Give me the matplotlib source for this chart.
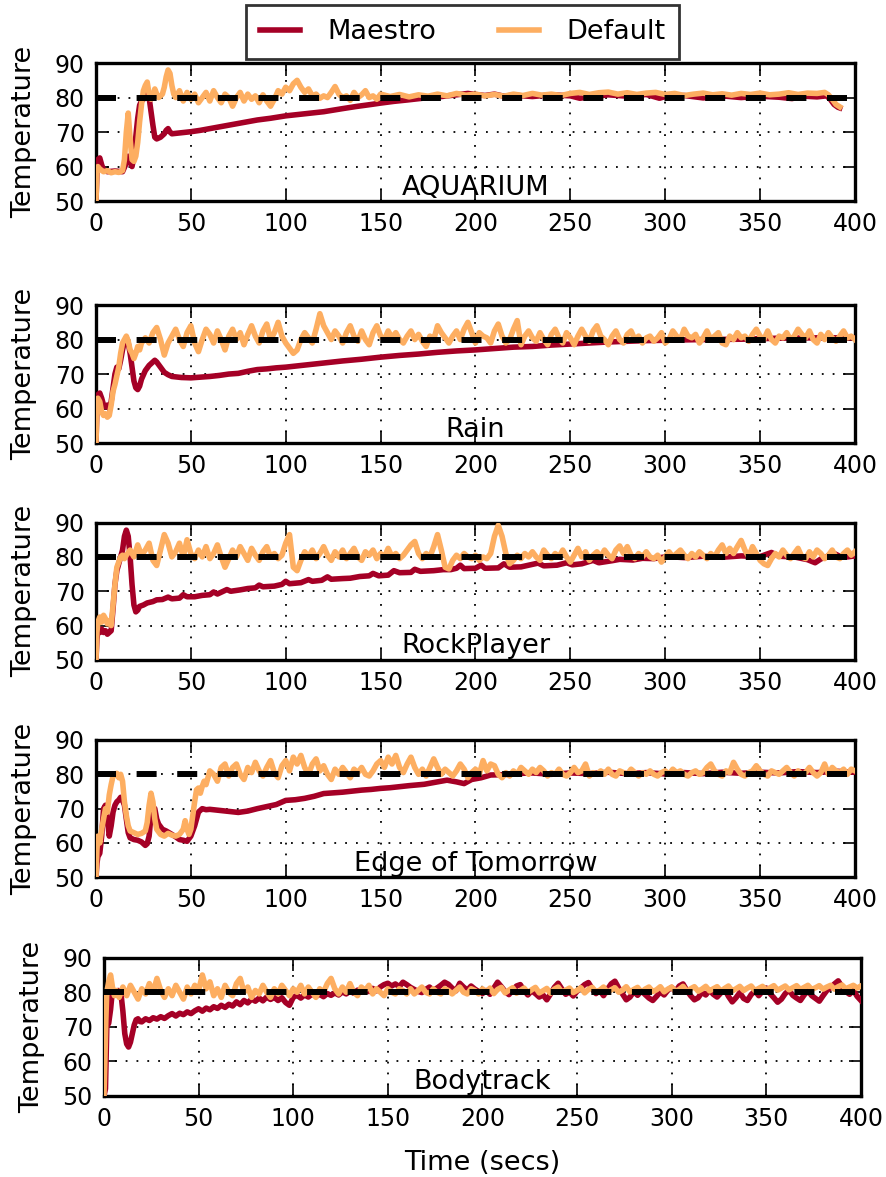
import matplotlib
matplotlib.use('Agg')
import matplotlib.pyplot as plt
from matplotlib.lines import Line2D
import numpy as np

# ── Config ──
MAESTRO_COLOR = "#a50026"
DEFAULT_COLOR = "#fdae61"
TARGET = 80
PANEL_NAMES = ["AQUARIUM", "Rain", "RockPlayer", "Edge of Tomorrow", "Bodytrack"]
X_TICKS = [0, 50, 100, 150, 200, 250, 300, 350, 400]
Y_TICKS = [50, 60, 70, 80, 90]

# ── Data ──
# (time, temp) points for the start-up part; noisy tails sampled every 2 s

# AQUARIUM
aq_maestro = [(0, 50), (0.5, 58), (1, 62), (2, 62.5), (3, 60.5), (4, 59), (6, 58.5), (10, 58.7),
              (14, 58.5), (16, 61), (17, 63), (18, 61.5), (19, 60), (20, 63), (21, 68.7), (22, 74),
              (23, 77.8), (24, 79), (25, 79.5), (26, 80.5), (27, 81.7), (28, 80), (29, 76), (30, 72),
              (31, 68.5), (32, 68), (34, 68.5), (36, 69.5), (37, 70.5), (38, 71), (39, 70), (40, 69.5),
              (45, 69.8), (50, 70.1), (55, 70.5), (60, 71), (67, 71.7), (75, 72.5), (85, 73.5),
              (92, 74), (100, 74.7), (110, 75.3), (120, 75.9), (130, 76.8), (137, 77.4), (145, 78),
              (150, 78.4), (157, 78.9), (164, 79.3), (172, 79.8), (182, 80.3), (190, 80.8),
              (196, 81.2), (200, 80.9), (205, 80.6), (210, 81), (215, 80.4), (220, 80.7), (230, 80.3),
              (240, 80.8), (250, 80.5), (255, 79.8), (260, 80.2), (270, 80.8), (280, 80.4), (290, 80.9),
              (297, 79.8), (300, 80.3), (310, 80.6), (320, 79.9), (330, 80.5), (340, 80), (350, 80.4),
              (360, 80.1), (367, 79.7), (370, 80.5), (380, 80.2), (385, 80.5), (387, 79.5),
              (389, 78), (391, 77.2), (392, 77)]
aq_default_head = [(0, 50), (0.5, 58), (1, 60), (2, 59.3), (4, 58.5), (6, 58.8), (8, 58.2), (10, 58.5),
                   (12, 58.3), (14, 58.8), (15, 62), (16, 70), (17, 75.5), (18, 68), (19, 62),
                   (20, 61.5), (21, 63), (22, 67), (23, 73), (24, 78), (25, 82), (26, 83.5), (27, 84.5),
                   (28, 81), (29, 79.5), (30, 80.5), (31, 82.5), (32, 81), (33, 80), (34, 80.5),
                   (35, 81), (36, 83), (37, 86), (38, 88), (39, 87), (40, 83.5), (41, 81), (42, 80)]
aq_default_tail = [82, 79, 81.5, 79.5, 81, 78.5, 80, 81.5, 79, 82,
                   80, 78.5, 81, 80, 77.5, 80, 81.5, 79, 81, 79.5,
                   80.5, 78.5, 80.8, 79, 77.5, 79.5, 82, 81, 83, 82,
                   84, 85, 83, 81.5, 82.5, 80.5, 81, 79.8, 80.5, 80,
                   81.5, 83.2, 81, 80, 80.5, 79.2, 81.5, 80, 80.8, 82,
                   80, 80.5, 79.5, 81]  # t = 44, 46, ...
aq_default_rest = [(155, 80.3), (160, 80.9), (165, 80.2), (170, 80.8), (175, 80.4), (180, 81),
                   (185, 80.5), (190, 81.2), (195, 80.7), (200, 81), (205, 80.5), (210, 80.9),
                   (215, 80.4), (220, 81), (225, 80.6), (230, 81.2), (235, 80.7), (240, 81),
                   (245, 80.6), (250, 81.2), (255, 81.5), (260, 80.9), (265, 81.4), (270, 81.6),
                   (275, 81), (280, 81.4), (285, 80.9), (290, 81.3), (295, 81.5), (300, 80.9),
                   (305, 81.2), (310, 80.6), (315, 81), (320, 81.3), (325, 80.8), (330, 81.1),
                   (335, 80.7), (340, 81.2), (345, 80.9), (350, 81.3), (355, 80.8), (360, 81),
                   (365, 81.4), (370, 80.9), (375, 81.3), (380, 81.2), (384, 81.5), (386, 80.8),
                   (388, 79.5), (390, 78), (392, 77.3)]

# Rain
rain_maestro = [(0, 50), (0.5, 60), (1, 64), (2, 64.5), (3, 63), (4, 61), (5, 60.5), (6, 61), (7, 60),
                (8, 62), (9, 66), (10, 70), (11, 72), (12, 71.5), (13, 74), (14, 77), (15, 79.5),
                (16, 80.5), (17, 79), (18, 76), (19, 72), (20, 68), (21, 66), (22, 65.5), (23, 66.5),
                (24, 68.5), (26, 71), (28, 72.5), (30, 73.5), (31, 74), (32, 73.5), (34, 72),
                (36, 70.5), (38, 69.8), (40, 69.3), (45, 69), (50, 68.9), (55, 69.1), (60, 69.3),
                (65, 69.6), (70, 70), (75, 70.2), (80, 70.8), (85, 71.3), (90, 71.5), (95, 71.8),
                (100, 72), (110, 72.6), (120, 73.2), (130, 73.8), (140, 74.3), (150, 74.9),
                (160, 75.4), (170, 75.8), (180, 76.3), (190, 76.7), (200, 77), (210, 77.4),
                (220, 77.8), (230, 78), (240, 78.4), (250, 78.7), (260, 79), (270, 79.3), (280, 79.5),
                (290, 79.7), (300, 79.8), (320, 80), (340, 80.1), (360, 80.4), (380, 80.5), (400, 80.5)]
rain_default_head = [(0, 50), (0.5, 59), (1, 63), (2, 62), (3, 59), (4, 58), (5, 58.5), (6, 57.5),
                     (7, 58), (8, 61), (9, 65), (10, 67), (11, 69.5), (12, 72), (13, 76), (14, 79),
                     (15, 80), (16, 81), (17, 79.5), (18, 77), (19, 76), (20, 74.5), (21, 76),
                     (22, 78), (23, 77), (24, 79)]
rain_default_tail = [80.5, 79, 82, 83.5, 80, 75.5, 79, 81, 83, 80,
                     78, 82, 84, 79, 76.5, 80, 83, 81.5, 79, 82.5,
                     80, 77, 81, 83, 80, 82, 78.5, 81.5, 84, 81,
                     79, 82.5, 84.5, 80, 82, 85, 81, 79, 77.5, 76,
                     77, 80, 82, 80.5, 79, 83, 87.5, 84, 82, 80,
                     82.5, 81, 79, 82, 84, 81, 79.5, 82.5, 80, 78.5,
                     82, 84, 81, 80, 82.5, 80.5, 82, 80, 79, 81,
                     82.5, 80, 81.5, 79.5, 78, 81, 80, 84, 82, 80.5,
                     79, 81, 82.5, 80, 83, 85, 82, 79, 82, 81,
                     80.5, 79, 82.5, 84.5, 81, 79, 80, 83, 85.5, 78.5,
                     81, 82.5, 80.5, 79.5, 82, 80, 78.5, 81.5, 83, 80.5,
                     79, 82, 80.5, 78.5, 81, 83, 81, 79.5, 82.5, 84,
                     81, 80, 78.5, 81, 82.5, 80, 79, 81.5, 82.5, 80,
                     81, 79, 80.5, 81, 79.5, 80.5, 82, 79, 80, 82.5,
                     81, 80, 83, 81, 80.5, 81.5, 79, 80.5, 82.5, 80,
                     81, 82, 79, 78.5, 81, 80, 82, 80.5, 81, 79.5,
                     81.5, 83, 81, 80, 82.5, 80, 79, 81, 80.5, 82,
                     80, 81, 83, 81.5, 80.5, 82.5, 80, 79, 81.5, 80,
                     82, 80.5, 79.5, 81, 82.5, 80.5, 81, 80]  # t = 26, 28, ...

# RockPlayer
rock_maestro = [(0, 50), (0.5, 56), (1, 58.5), (2, 58), (3, 59), (4, 58), (5, 58.5), (6, 57.5), (7, 58),
                (8, 58.5), (9, 65), (10, 72), (11, 76), (12, 78), (13, 80), (14, 82), (15, 86),
                (16, 87.8), (17, 86), (18, 80), (19, 72), (20, 66), (21, 64), (22, 64.5), (23, 65.6),
                (25, 66), (27, 66.6), (30, 67), (32, 67.5), (35, 67.6), (38, 68.3), (40, 67.8),
                (44, 68), (46, 69), (48, 68.4), (52, 68.4), (56, 68.8), (60, 69), (62, 69.8),
                (64, 69.2), (69, 70.5), (71, 70), (76, 70.4), (80, 70.8), (84, 71), (86, 71.8),
                (88, 71.3), (94, 71.5), (98, 72), (100, 72.9), (102, 72.2), (108, 72.5), (112, 73.4),
                (114, 72.9), (119, 73.2), (122, 74.2), (124, 73.5), (130, 73.7), (134, 73.8),
                (139, 74.3), (144, 74.5), (146, 75.2), (149, 74.5), (154, 74.7), (157, 76),
                (160, 75.4), (166, 75.5), (168, 76.4), (171, 75.8), (178, 76), (183, 76.3),
                (187, 76.3), (190, 76.7), (192, 77.6), (194, 76.6), (200, 76.7), (203, 77.6),
                (205, 76.7), (212, 76.8), (215, 78), (218, 77), (224, 77.1), (233, 78.2), (236, 77.4),
                (243, 77.6), (248, 78.3), (251, 77.7), (256, 78), (262, 79), (265, 78.3), (272, 78.9),
                (276, 79.3), (283, 79.1), (288, 79.6), (294, 79.5), (301, 80.1), (310, 79.8),
                (320, 80.2), (330, 79.9), (340, 80.3), (350, 80.1), (356, 81.3), (360, 80.2),
                (368, 80), (375, 79.2), (379, 78.3), (382, 79.4), (386, 80.3), (389, 81), (392, 80.2),
                (396, 80), (400, 80.3)]
rock_default_head = [(0, 50), (0.5, 58), (1, 61), (2, 62.5), (3, 61), (4, 63), (5, 62), (6, 60.5),
                     (7, 61.5), (8, 60), (9, 66), (10, 72), (11, 77), (12, 78.5), (13, 80), (14, 80.5),
                     (15, 79.5), (16, 80.5)]
rock_default_tail = [82, 80, 83.5, 80.5, 82, 84, 79, 77.5, 82, 86.5,
                     84, 80, 81.5, 84, 80, 85, 81, 79.5, 82, 80,
                     83, 79.5, 81, 83.5, 80, 77, 79.5, 82, 80, 83,
                     81, 79, 82.5, 80.5, 79, 81.5, 83, 80, 81, 79.5,
                     80.5, 84, 86.5, 77, 76, 79, 81.5, 80, 82, 79.5,
                     81, 83, 80.5, 79, 81.5, 80, 82, 79.5, 81, 82.5,
                     80, 79, 81.5, 80.5, 82, 79.5, 81, 80, 82.5, 80,
                     81, 79.5, 80.5, 82, 83.5, 84.5, 81, 79.5, 81, 80,
                     83, 86.5, 82, 77, 76.5, 79, 80.5, 79.5, 81, 80,
                     79.5, 80.5, 79, 80, 79.5, 81, 86, 89.2, 86, 81,
                     78, 79, 80.5, 79.5, 81, 80, 81.5, 80, 79, 82,
                     80.5, 79.5, 81, 80, 82, 80, 78.5, 80.5, 82.5, 80,
                     81.5, 79, 80.5, 81.5, 80, 82, 80.5, 79.5, 82, 83.2,
                     81, 83, 80.5, 79.5, 81, 80, 81.5, 80, 79.5, 80.5,
                     78.5, 80, 81.5, 80, 81, 82, 80.5, 79.5, 81, 80,
                     81.5, 80.5, 79.5, 81, 80, 82, 83.5, 81, 82.5, 81,
                     83, 84.8, 82, 80, 83, 81, 79, 78, 77.5, 79.5,
                     81, 80, 82, 80.5, 79.5, 81, 82.5, 80, 79.5, 81.5,
                     80, 82, 81, 79.5, 80.5, 82, 80, 79.5, 81, 82,
                     80.5, 81.5]  # t = 18, 20, ...

# Edge of Tomorrow
edge_maestro = [(0, 50), (0.5, 54), (1, 56), (2, 57), (3, 62), (4, 70), (5, 71), (6, 67), (7, 62),
                (8, 65), (9, 69), (10, 71), (11, 72), (12, 72.5), (13, 73.3), (14, 72.5), (15, 71),
                (16, 67), (17, 63), (18, 61.5), (20, 61), (22, 60.8), (24, 60.3), (26, 59.3),
                (27, 59.8), (28, 62), (29, 68), (30, 70.5), (31, 70), (32, 67), (33, 65.5), (35, 64),
                (37, 63.5), (40, 62.5), (42, 61.8), (44, 61), (46, 60.8), (48, 60.5), (50, 62),
                (52, 65), (54, 69), (56, 70), (58, 69.7), (60, 69.8), (65, 69.5), (70, 69.2),
                (75, 68.9), (80, 69.3), (85, 70), (90, 70.6), (95, 71.2), (100, 72.4), (105, 72.6),
                (110, 73), (115, 73.6), (120, 74.4), (125, 74.6), (130, 74.8), (135, 75.1),
                (140, 75.4), (145, 75.6), (150, 75.9), (155, 76.1), (160, 76.4), (165, 76.7),
                (173, 77.1), (178, 77.6), (182, 78), (185, 78.3), (190, 77.8), (194, 77.3),
                (198, 78.5), (203, 79), (208, 79.8), (215, 79.9), (220, 80.2), (230, 80.4),
                (240, 80), (250, 80.4), (260, 80.2), (270, 80.6), (280, 80.2), (290, 80.5),
                (300, 80.1), (310, 80.5), (320, 80.2), (330, 80.6), (340, 80.3), (350, 80.6),
                (360, 80.4), (370, 80.8), (380, 80.5), (390, 80.9), (400, 80.6)]
edge_default_head = [(0, 50), (0.5, 58), (1, 62), (2, 60), (3, 64), (4, 67), (5, 70), (6, 69), (7, 74),
                     (8, 77), (9, 79.5), (10, 80), (11, 80.3), (12, 79), (13, 80), (14, 78), (15, 72),
                     (16, 68), (17, 65), (18, 63.5), (20, 63), (22, 62.5), (24, 62.8), (26, 63.5),
                     (27, 66), (28, 71), (29, 74.5), (30, 72), (31, 67), (32, 64), (34, 62.5),
                     (36, 62), (38, 62.8), (40, 62.3), (42, 62), (44, 62.5), (46, 64), (47, 66.5),
                     (48, 64), (49, 62.5), (50, 64), (51, 68), (52, 72), (53, 75.5), (54, 76),
                     (55, 74.5), (56, 76.5), (57, 78), (58, 77), (59, 79), (60, 81)]
edge_default_tail = [80, 78, 82, 83, 79.5, 82, 83, 80, 78.5, 82,
                     80.5, 83.5, 81, 79.5, 82, 84, 80.5, 79, 82.5, 84,
                     81, 85, 83, 85.5, 82, 80, 83, 84.5, 81, 82.5,
                     80, 78.5, 81.5, 80, 82, 80.5, 79, 81.5, 80.5, 82,
                     80, 79.5, 81, 83, 84, 82, 85, 83, 85.5, 82,
                     80.5, 83, 85, 82, 80, 81.5, 79.5, 82, 84.5, 82,
                     80, 81.5, 80.5, 79.5, 81, 83, 81.5, 79, 80.5, 81.5,
                     80, 84, 81, 83, 82.5, 80, 79, 80.5, 79.5, 81,
                     80, 82, 81, 80, 81.5, 80.5, 82, 81, 79.5, 80.5,
                     80, 81.5, 80, 79.5, 80.5, 82, 80.5, 81, 83, 79.5,
                     80.5, 80, 81, 80, 81.5, 80, 79.5, 81, 80.5, 80,
                     81.5, 80.5, 79.5, 80.5, 80, 81, 80, 79.5, 80.5, 81,
                     80, 81.5, 80.5, 81, 80, 79.5, 80.5, 81, 80, 80.5,
                     82, 83, 81, 80, 79.5, 81, 80.5, 83.5, 81.5, 80,
                     79.5, 80.5, 81, 82.5, 81, 80, 79.5, 81, 80.5, 80,
                     81, 82, 80.5, 79.5, 81, 80, 80.5, 82, 80.5, 79.5,
                     80.5, 83, 80, 82, 81, 80.5, 81.5, 80, 81.5, 81]  # t = 62, 64, ...

# Bodytrack
body_maestro_head = [(0, 50), (0.8, 52), (1.5, 70), (2.5, 71), (3.5, 75), (4.5, 80.8), (6, 80),
                     (7.5, 80.5), (9, 79.5), (10, 74.5), (11, 68), (12, 65), (13, 64.1), (14, 65.5),
                     (15, 68), (16, 70.5), (17, 72), (18, 72.3), (19, 71.5), (20, 71.4)]
body_maestro_tail = [72.3, 71.8, 72.6, 72.2, 72.9, 72.4, 73.2, 73.8, 73.1, 73.9,
                     73.5, 74.3, 73.8, 74.6, 75.2, 74.5, 75.4, 74.9, 75.8, 75.3,
                     76.2, 75.6, 76.5, 76, 77.2, 76.4, 77.6, 76.9, 78, 77.4,
                     78.3, 77.5, 78.6, 77.9, 78.5, 77.6, 78.4, 77, 76.2, 78.5,
                     79.1, 78.3, 79.2, 78.6, 79.5, 78.8, 79.4, 78.7, 79.6, 79.1,
                     79.8, 79.2, 80.1, 79.5, 80.3, 79.7, 80.6, 80, 80.8, 80.2,
                     81.1, 80.4, 81.5, 82.2, 82.6, 81.8, 82.4, 81.6, 82.9, 82.2,
                     81.4, 80.8, 80.2, 79.9, 80.8, 81.5, 80.6, 81.2, 82, 82.9,
                     82.3, 81.2, 80.4, 82.6, 81.5, 80.6, 81.8, 80.9, 80.2, 79.6,
                     80.5, 79.4, 81.2, 82.9, 81.6, 80.2, 79.3, 80.6, 81.8, 82.2,
                     80.5, 79.2, 80.4, 79.6, 78.6, 79.2, 77.8, 79.5, 81.4, 82.6,
                     80.9, 79.4, 80.1, 78.9, 80.3, 81.2, 82.2, 82.8, 81, 79.6,
                     80.5, 79, 80.8, 82.4, 83.2, 81.2, 79.5, 77.8, 78.6, 80.2,
                     79.1, 80.4, 79.3, 78.3, 77.6, 78.8, 80.1, 79.2, 80.6, 81.4,
                     80.2, 81.8, 82.4, 80.5, 79, 77.8, 78.4, 80, 79.2, 80.6,
                     79.4, 78.6, 79.8, 80.9, 78.8, 77.2, 78.4, 79.9, 78.2, 77.6,
                     79.3, 80.4, 79, 80.3, 81.2, 79.6, 78.4, 77.1, 78, 79.6,
                     80.6, 79.1, 78.3, 77.6, 79.2, 80.4, 79, 78.2, 77.4, 79,
                     80.5, 81.3, 82.4, 83.3, 81.6, 80.2, 79.4, 80.6, 78.8, 77.6]  # t = 22, 24, ...
body_default_head = [(0, 50), (0.5, 60), (1, 72), (1.5, 80), (2.5, 83), (3.5, 85), (4.5, 81.5),
                     (5.5, 79), (6.5, 80.5)]
body_default_tail = [78.5, 81.5, 79, 82, 80, 78, 81, 79.5, 82.5, 80,
                     84, 80.5, 78.5, 81, 79, 82, 80, 78, 81.5, 79.5,
                     82, 80.5, 85, 81, 83, 79, 81, 78.5, 82, 80,
                     79, 82.5, 84, 80, 81.5, 78.5, 80.5, 79.5, 82, 80,
                     78.5, 81, 79.5, 82, 80.5, 79, 81, 80, 82, 79.5,
                     81.5, 80, 78.5, 81, 80, 82.5, 84, 81, 79.5, 81.5,
                     80, 82.5, 80, 79, 81.5, 80.5, 82, 79.5, 81, 80,
                     79, 81, 80, 79.5, 81, 80.5, 79.5, 81, 79.5, 80.5,
                     81.5, 80, 79.5, 81, 80, 79.5, 81, 80.5, 79.5, 80.5,
                     81.5, 80, 79.5, 81, 80.5, 79.5, 81, 80, 81.2, 79.6,
                     80.8, 81.4, 79.8, 80.6, 81.3, 79.7, 80.5, 81.2, 79.9, 80.7,
                     81.4, 79.8, 80.4, 81.1, 79.7, 80.9, 81.5, 80, 80.6, 81.2,
                     79.9, 80.5, 81.3, 79.8, 80.8, 81.4, 80.1, 80.6, 81.5, 79.9,
                     80.7, 81.3, 80, 80.6, 81.6, 80.1, 80.8, 81.4, 80, 80.9,
                     81.5, 80.2, 80.7, 81.6, 80.1, 80.9, 81.5, 80.3, 80.8, 81.7,
                     80.2, 81, 81.6, 80.3, 80.9, 81.7, 80.4, 81, 81.6, 80.3,
                     81.1, 81.8, 80.4, 81, 81.7, 80.5, 81.2, 81.8, 80.5, 81.1,
                     81.7, 80.6, 81.3, 81.9, 80.6, 81.2, 81.8, 80.7, 81.3, 81.9,
                     80.8, 81.4, 82, 80.8, 81.3, 81.9, 80.9, 81.5, 82, 80.9,
                     81.6, 82.1, 81, 81.5, 82, 81.2, 81.8]  # t = 8, 10, ...


def build(head, tail=(), t0=0, step=2, rest=()):
    """Join the irregular start-up points, the 2 s sampled tail and any trailing points."""
    t = [p[0] for p in head]
    v = [p[1] for p in head]
    t += list(t0 + step * np.arange(len(tail)))
    v += list(tail)
    t += [p[0] for p in rest]
    v += [p[1] for p in rest]
    return np.array(t, dtype=float), np.array(v, dtype=float)


maestro_series = [
    build(aq_maestro),
    build(rain_maestro),
    build(rock_maestro),
    build(edge_maestro),
    build(body_maestro_head, body_maestro_tail, 22),
]
default_series = [
    build(aq_default_head, aq_default_tail, 44, rest=aq_default_rest),
    build(rain_default_head, rain_default_tail, 26),
    build(rock_default_head, rock_default_tail, 18),
    build(edge_default_head, edge_default_tail, 62),
    build(body_default_head, body_default_tail, 8),
]

# axes rectangles in figure fraction (left, bottom, width, height)
RECTS = [
    [0.1082, 0.8292, 0.8557, 0.1172],
    [0.1082, 0.6236, 0.8557, 0.1172],
    [0.1082, 0.4393, 0.8557, 0.1167],
    [0.1082, 0.2546, 0.8557, 0.1167],
    [0.1172, 0.0691, 0.8534, 0.1172],
]

fig = plt.figure(figsize=(8.87, 11.77), dpi=100)

for i, name in enumerate(PANEL_NAMES):
    ax = fig.add_axes(RECTS[i])
    mt, mv = maestro_series[i]
    dt, dv = default_series[i]
    ax.plot(mt, mv, color=MAESTRO_COLOR, lw=4, solid_joinstyle="round", zorder=3)
    ax.plot(dt, dv, color=DEFAULT_COLOR, lw=4, solid_joinstyle="round", zorder=4)
    ax.axhline(TARGET, color="black", lw=4.3, dashes=(3.35, 3.45), zorder=5)

    ax.set_xlim(0, 400)
    ax.set_ylim(50, 90)
    ax.set_xticks(X_TICKS)
    ax.set_yticks(Y_TICKS)
    ax.grid(True, color="black", linestyle=(0, (1, 5)), linewidth=1.3, zorder=1)
    ax.tick_params(direction="in", top=True, right=True, length=9, width=1.2,
                   pad=8, labelsize=17)
    for sp in ax.spines.values():
        sp.set_linewidth(2.4)
    ax.set_ylabel("Temperature", fontsize=19.5)
    ax.yaxis.set_label_coords(-0.078, 0.5)
    ax.text(0.5, 0.047, name, transform=ax.transAxes, ha="center", va="baseline",
            fontsize=19.5, zorder=6)
    if i == len(PANEL_NAMES) - 1:
        ax.set_xlabel("Time (secs)", fontsize=19.5, labelpad=14)

handles = [Line2D([0], [0], color=MAESTRO_COLOR, lw=4),
           Line2D([0], [0], color=DEFAULT_COLOR, lw=4)]
leg = fig.legend(handles, ["Maestro", "Default"], loc="center", ncol=2,
                 bbox_to_anchor=(0.5214, 0.9728), fontsize=19.5, fancybox=False,
                 handlelength=1.5, handletextpad=1.0, columnspacing=2.3, borderpad=0.5)
leg.get_frame().set_edgecolor("black")
leg.get_frame().set_linewidth(2)

fig.savefig("out.png", dpi=100)
plt.close(fig)
